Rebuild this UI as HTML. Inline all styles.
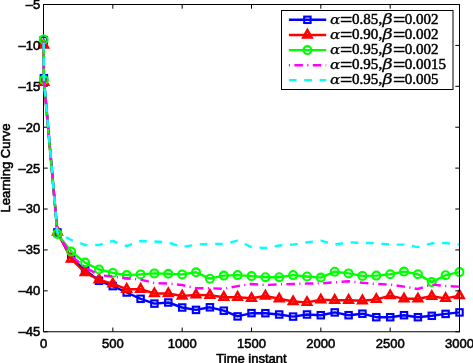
<!DOCTYPE html>
<html><head><meta charset="utf-8"><title>Learning Curve</title>
<style>html,body{margin:0;padding:0;background:#fff}svg{display:block}</style></head>
<body>
<svg width="473" height="363" viewBox="0 0 473 363">
<rect width="473" height="363" fill="#fff"/>
<path d="M43.5 4.5V331.75H459.5" fill="none" stroke="#000" stroke-width="1"/>
<path d="M43.50 331.75v-4.2" stroke="#000" stroke-width="1"/>
<path d="M112.83 331.75v-4.2" stroke="#000" stroke-width="1"/>
<path d="M182.17 331.75v-4.2" stroke="#000" stroke-width="1"/>
<path d="M251.50 331.75v-4.2" stroke="#000" stroke-width="1"/>
<path d="M320.83 331.75v-4.2" stroke="#000" stroke-width="1"/>
<path d="M390.17 331.75v-4.2" stroke="#000" stroke-width="1"/>
<path d="M459.50 331.75v-4.2" stroke="#000" stroke-width="1"/>
<path d="M43.5 4.50h4.2" stroke="#000" stroke-width="1"/>
<path d="M43.5 45.41h4.2" stroke="#000" stroke-width="1"/>
<path d="M43.5 86.31h4.2" stroke="#000" stroke-width="1"/>
<path d="M43.5 127.22h4.2" stroke="#000" stroke-width="1"/>
<path d="M43.5 168.12h4.2" stroke="#000" stroke-width="1"/>
<path d="M43.5 209.03h4.2" stroke="#000" stroke-width="1"/>
<path d="M43.5 249.94h4.2" stroke="#000" stroke-width="1"/>
<path d="M43.5 290.84h4.2" stroke="#000" stroke-width="1"/>
<path d="M43.5 331.75h4.2" stroke="#000" stroke-width="1"/>
<polyline points="43.7,40.3 43.9,78.2 57.4,232.4 71.2,258.0 85.1,270.0 99.0,280.8 112.8,286.1 126.7,292.5 140.6,298.8 154.4,303.6 168.3,302.5 182.2,307.5 196.0,309.9 209.9,307.3 223.8,310.7 237.6,316.4 251.5,313.1 265.4,313.2 279.2,314.5 293.1,316.6 307.0,314.5 320.8,315.2 334.7,312.4 348.6,315.2 362.4,313.7 376.3,317.2 390.2,317.2 404.0,315.2 417.9,317.2 431.8,315.8 445.6,313.9 459.5,312.4" fill="none" stroke="#0000ff" stroke-width="2.4" stroke-linejoin="round"/>
<rect x="40.5" y="37.1" width="6.4" height="6.4" fill="none" stroke="#0000ff" stroke-width="2.1"/>
<rect x="40.7" y="75.0" width="6.4" height="6.4" fill="none" stroke="#0000ff" stroke-width="2.1"/>
<rect x="54.2" y="229.2" width="6.4" height="6.4" fill="none" stroke="#0000ff" stroke-width="2.1"/>
<rect x="68.0" y="254.8" width="6.4" height="6.4" fill="none" stroke="#0000ff" stroke-width="2.1"/>
<rect x="81.9" y="266.8" width="6.4" height="6.4" fill="none" stroke="#0000ff" stroke-width="2.1"/>
<rect x="95.8" y="277.6" width="6.4" height="6.4" fill="none" stroke="#0000ff" stroke-width="2.1"/>
<rect x="109.6" y="282.9" width="6.4" height="6.4" fill="none" stroke="#0000ff" stroke-width="2.1"/>
<rect x="123.5" y="289.3" width="6.4" height="6.4" fill="none" stroke="#0000ff" stroke-width="2.1"/>
<rect x="137.4" y="295.6" width="6.4" height="6.4" fill="none" stroke="#0000ff" stroke-width="2.1"/>
<rect x="151.2" y="300.4" width="6.4" height="6.4" fill="none" stroke="#0000ff" stroke-width="2.1"/>
<rect x="165.1" y="299.3" width="6.4" height="6.4" fill="none" stroke="#0000ff" stroke-width="2.1"/>
<rect x="179.0" y="304.3" width="6.4" height="6.4" fill="none" stroke="#0000ff" stroke-width="2.1"/>
<rect x="192.8" y="306.7" width="6.4" height="6.4" fill="none" stroke="#0000ff" stroke-width="2.1"/>
<rect x="206.7" y="304.1" width="6.4" height="6.4" fill="none" stroke="#0000ff" stroke-width="2.1"/>
<rect x="220.6" y="307.5" width="6.4" height="6.4" fill="none" stroke="#0000ff" stroke-width="2.1"/>
<rect x="234.4" y="313.2" width="6.4" height="6.4" fill="none" stroke="#0000ff" stroke-width="2.1"/>
<rect x="248.3" y="309.9" width="6.4" height="6.4" fill="none" stroke="#0000ff" stroke-width="2.1"/>
<rect x="262.2" y="310.0" width="6.4" height="6.4" fill="none" stroke="#0000ff" stroke-width="2.1"/>
<rect x="276.0" y="311.3" width="6.4" height="6.4" fill="none" stroke="#0000ff" stroke-width="2.1"/>
<rect x="289.9" y="313.4" width="6.4" height="6.4" fill="none" stroke="#0000ff" stroke-width="2.1"/>
<rect x="303.8" y="311.3" width="6.4" height="6.4" fill="none" stroke="#0000ff" stroke-width="2.1"/>
<rect x="317.6" y="312.0" width="6.4" height="6.4" fill="none" stroke="#0000ff" stroke-width="2.1"/>
<rect x="331.5" y="309.2" width="6.4" height="6.4" fill="none" stroke="#0000ff" stroke-width="2.1"/>
<rect x="345.4" y="312.0" width="6.4" height="6.4" fill="none" stroke="#0000ff" stroke-width="2.1"/>
<rect x="359.2" y="310.5" width="6.4" height="6.4" fill="none" stroke="#0000ff" stroke-width="2.1"/>
<rect x="373.1" y="314.0" width="6.4" height="6.4" fill="none" stroke="#0000ff" stroke-width="2.1"/>
<rect x="387.0" y="314.0" width="6.4" height="6.4" fill="none" stroke="#0000ff" stroke-width="2.1"/>
<rect x="400.8" y="312.0" width="6.4" height="6.4" fill="none" stroke="#0000ff" stroke-width="2.1"/>
<rect x="414.7" y="314.0" width="6.4" height="6.4" fill="none" stroke="#0000ff" stroke-width="2.1"/>
<rect x="428.6" y="312.6" width="6.4" height="6.4" fill="none" stroke="#0000ff" stroke-width="2.1"/>
<rect x="442.4" y="310.7" width="6.4" height="6.4" fill="none" stroke="#0000ff" stroke-width="2.1"/>
<rect x="456.3" y="309.2" width="6.4" height="6.4" fill="none" stroke="#0000ff" stroke-width="2.1"/>
<polyline points="43.7,45.0 43.9,82.3 57.4,232.0 71.2,259.0 85.1,272.6 99.0,279.7 112.8,283.9 126.7,289.2 140.6,289.2 154.4,293.5 168.3,293.5 182.2,296.0 196.0,294.9 209.9,295.2 223.8,297.2 237.6,297.2 251.5,298.3 265.4,296.0 279.2,298.8 293.1,301.5 307.0,302.4 320.8,299.8 334.7,300.2 348.6,300.2 362.4,300.7 376.3,299.4 390.2,295.6 404.0,298.8 417.9,298.8 431.8,296.3 445.6,298.4 459.5,295.6" fill="none" stroke="#ff0000" stroke-width="2.4" stroke-linejoin="round"/>
<polygon points="43.7,40.2 47.8,47.4 39.6,47.4" fill="none" stroke="#ff0000" stroke-width="2.6" stroke-linejoin="miter"/>
<polygon points="43.9,77.5 48.0,84.7 39.8,84.7" fill="none" stroke="#ff0000" stroke-width="2.6" stroke-linejoin="miter"/>
<polygon points="57.4,227.2 61.5,234.4 53.3,234.4" fill="none" stroke="#ff0000" stroke-width="2.6" stroke-linejoin="miter"/>
<polygon points="71.2,254.2 75.3,261.4 67.1,261.4" fill="none" stroke="#ff0000" stroke-width="2.6" stroke-linejoin="miter"/>
<polygon points="85.1,267.9 89.2,275.0 81.0,275.0" fill="none" stroke="#ff0000" stroke-width="2.6" stroke-linejoin="miter"/>
<polygon points="99.0,274.9 103.1,282.1 94.9,282.1" fill="none" stroke="#ff0000" stroke-width="2.6" stroke-linejoin="miter"/>
<polygon points="112.8,279.1 116.9,286.3 108.7,286.3" fill="none" stroke="#ff0000" stroke-width="2.6" stroke-linejoin="miter"/>
<polygon points="126.7,284.4 130.8,291.6 122.6,291.6" fill="none" stroke="#ff0000" stroke-width="2.6" stroke-linejoin="miter"/>
<polygon points="140.6,284.4 144.7,291.6 136.5,291.6" fill="none" stroke="#ff0000" stroke-width="2.6" stroke-linejoin="miter"/>
<polygon points="154.4,288.8 158.5,295.9 150.3,295.9" fill="none" stroke="#ff0000" stroke-width="2.6" stroke-linejoin="miter"/>
<polygon points="168.3,288.8 172.4,295.9 164.2,295.9" fill="none" stroke="#ff0000" stroke-width="2.6" stroke-linejoin="miter"/>
<polygon points="182.2,291.2 186.3,298.4 178.1,298.4" fill="none" stroke="#ff0000" stroke-width="2.6" stroke-linejoin="miter"/>
<polygon points="196.0,290.1 200.1,297.3 191.9,297.3" fill="none" stroke="#ff0000" stroke-width="2.6" stroke-linejoin="miter"/>
<polygon points="209.9,290.4 214.0,297.6 205.8,297.6" fill="none" stroke="#ff0000" stroke-width="2.6" stroke-linejoin="miter"/>
<polygon points="223.8,292.4 227.9,299.6 219.7,299.6" fill="none" stroke="#ff0000" stroke-width="2.6" stroke-linejoin="miter"/>
<polygon points="237.6,292.4 241.7,299.6 233.5,299.6" fill="none" stroke="#ff0000" stroke-width="2.6" stroke-linejoin="miter"/>
<polygon points="251.5,293.6 255.6,300.7 247.4,300.7" fill="none" stroke="#ff0000" stroke-width="2.6" stroke-linejoin="miter"/>
<polygon points="265.4,291.2 269.5,298.4 261.3,298.4" fill="none" stroke="#ff0000" stroke-width="2.6" stroke-linejoin="miter"/>
<polygon points="279.2,294.1 283.3,301.2 275.1,301.2" fill="none" stroke="#ff0000" stroke-width="2.6" stroke-linejoin="miter"/>
<polygon points="293.1,296.8 297.2,303.9 289.0,303.9" fill="none" stroke="#ff0000" stroke-width="2.6" stroke-linejoin="miter"/>
<polygon points="307.0,297.6 311.1,304.8 302.9,304.8" fill="none" stroke="#ff0000" stroke-width="2.6" stroke-linejoin="miter"/>
<polygon points="320.8,295.1 324.9,302.2 316.7,302.2" fill="none" stroke="#ff0000" stroke-width="2.6" stroke-linejoin="miter"/>
<polygon points="334.7,295.4 338.8,302.6 330.6,302.6" fill="none" stroke="#ff0000" stroke-width="2.6" stroke-linejoin="miter"/>
<polygon points="348.6,295.4 352.7,302.6 344.5,302.6" fill="none" stroke="#ff0000" stroke-width="2.6" stroke-linejoin="miter"/>
<polygon points="362.4,295.9 366.5,303.1 358.3,303.1" fill="none" stroke="#ff0000" stroke-width="2.6" stroke-linejoin="miter"/>
<polygon points="376.3,294.6 380.4,301.8 372.2,301.8" fill="none" stroke="#ff0000" stroke-width="2.6" stroke-linejoin="miter"/>
<polygon points="390.2,290.9 394.3,298.0 386.1,298.0" fill="none" stroke="#ff0000" stroke-width="2.6" stroke-linejoin="miter"/>
<polygon points="404.0,294.1 408.1,301.2 399.9,301.2" fill="none" stroke="#ff0000" stroke-width="2.6" stroke-linejoin="miter"/>
<polygon points="417.9,294.1 422.0,301.2 413.8,301.2" fill="none" stroke="#ff0000" stroke-width="2.6" stroke-linejoin="miter"/>
<polygon points="431.8,291.6 435.9,298.7 427.7,298.7" fill="none" stroke="#ff0000" stroke-width="2.6" stroke-linejoin="miter"/>
<polygon points="445.6,293.6 449.7,300.8 441.5,300.8" fill="none" stroke="#ff0000" stroke-width="2.6" stroke-linejoin="miter"/>
<polygon points="459.5,290.9 463.6,298.0 455.4,298.0" fill="none" stroke="#ff0000" stroke-width="2.6" stroke-linejoin="miter"/>
<polyline points="43.7,39.5 43.9,79.9 57.4,233.9 71.2,251.6 85.1,262.6 99.0,269.5 112.8,272.9 126.7,275.1 140.6,274.4 154.4,273.4 168.3,273.8 182.2,274.4 196.0,272.3 209.9,278.7 223.8,275.6 237.6,275.1 251.5,276.1 265.4,277.2 279.2,277.2 293.1,275.1 307.0,276.5 320.8,277.6 334.7,271.7 348.6,273.4 362.4,275.9 376.3,275.6 390.2,274.2 404.0,271.6 417.9,274.2 431.8,282.1 445.6,275.2 459.5,272.1" fill="none" stroke="#00ff00" stroke-width="2.4" stroke-linejoin="round"/>
<circle cx="43.7" cy="39.5" r="3.95" fill="none" stroke="#00ff00" stroke-width="2.1"/>
<circle cx="43.9" cy="79.9" r="3.95" fill="none" stroke="#00ff00" stroke-width="2.1"/>
<circle cx="57.4" cy="233.9" r="3.95" fill="none" stroke="#00ff00" stroke-width="2.1"/>
<circle cx="71.2" cy="251.6" r="3.95" fill="none" stroke="#00ff00" stroke-width="2.1"/>
<circle cx="85.1" cy="262.6" r="3.95" fill="none" stroke="#00ff00" stroke-width="2.1"/>
<circle cx="99.0" cy="269.5" r="3.95" fill="none" stroke="#00ff00" stroke-width="2.1"/>
<circle cx="112.8" cy="272.9" r="3.95" fill="none" stroke="#00ff00" stroke-width="2.1"/>
<circle cx="126.7" cy="275.1" r="3.95" fill="none" stroke="#00ff00" stroke-width="2.1"/>
<circle cx="140.6" cy="274.4" r="3.95" fill="none" stroke="#00ff00" stroke-width="2.1"/>
<circle cx="154.4" cy="273.4" r="3.95" fill="none" stroke="#00ff00" stroke-width="2.1"/>
<circle cx="168.3" cy="273.8" r="3.95" fill="none" stroke="#00ff00" stroke-width="2.1"/>
<circle cx="182.2" cy="274.4" r="3.95" fill="none" stroke="#00ff00" stroke-width="2.1"/>
<circle cx="196.0" cy="272.3" r="3.95" fill="none" stroke="#00ff00" stroke-width="2.1"/>
<circle cx="209.9" cy="278.7" r="3.95" fill="none" stroke="#00ff00" stroke-width="2.1"/>
<circle cx="223.8" cy="275.6" r="3.95" fill="none" stroke="#00ff00" stroke-width="2.1"/>
<circle cx="237.6" cy="275.1" r="3.95" fill="none" stroke="#00ff00" stroke-width="2.1"/>
<circle cx="251.5" cy="276.1" r="3.95" fill="none" stroke="#00ff00" stroke-width="2.1"/>
<circle cx="265.4" cy="277.2" r="3.95" fill="none" stroke="#00ff00" stroke-width="2.1"/>
<circle cx="279.2" cy="277.2" r="3.95" fill="none" stroke="#00ff00" stroke-width="2.1"/>
<circle cx="293.1" cy="275.1" r="3.95" fill="none" stroke="#00ff00" stroke-width="2.1"/>
<circle cx="307.0" cy="276.5" r="3.95" fill="none" stroke="#00ff00" stroke-width="2.1"/>
<circle cx="320.8" cy="277.6" r="3.95" fill="none" stroke="#00ff00" stroke-width="2.1"/>
<circle cx="334.7" cy="271.7" r="3.95" fill="none" stroke="#00ff00" stroke-width="2.1"/>
<circle cx="348.6" cy="273.4" r="3.95" fill="none" stroke="#00ff00" stroke-width="2.1"/>
<circle cx="362.4" cy="275.9" r="3.95" fill="none" stroke="#00ff00" stroke-width="2.1"/>
<circle cx="376.3" cy="275.6" r="3.95" fill="none" stroke="#00ff00" stroke-width="2.1"/>
<circle cx="390.2" cy="274.2" r="3.95" fill="none" stroke="#00ff00" stroke-width="2.1"/>
<circle cx="404.0" cy="271.6" r="3.95" fill="none" stroke="#00ff00" stroke-width="2.1"/>
<circle cx="417.9" cy="274.2" r="3.95" fill="none" stroke="#00ff00" stroke-width="2.1"/>
<circle cx="431.8" cy="282.1" r="3.95" fill="none" stroke="#00ff00" stroke-width="2.1"/>
<circle cx="445.6" cy="275.2" r="3.95" fill="none" stroke="#00ff00" stroke-width="2.1"/>
<circle cx="459.5" cy="272.1" r="3.95" fill="none" stroke="#00ff00" stroke-width="2.1"/>
<polyline points="43.7,41.6 43.9,79.0 57.4,233.0 71.2,255.7 85.1,267.5 99.0,275.0 112.8,276.6 126.7,278.3 140.6,279.7 154.4,283.0 168.3,283.6 182.2,285.0 196.0,288.2 209.9,288.2 223.8,288.8 237.6,286.1 251.5,284.0 265.4,285.0 279.2,284.4 293.1,284.0 307.0,283.5 320.8,283.4 334.7,282.3 348.6,281.3 362.4,282.8 376.3,284.0 390.2,284.5 404.0,286.6 417.9,289.0 431.8,284.6 445.6,286.0 459.5,286.6" fill="none" stroke="#ff00ff" stroke-width="2.4" stroke-linejoin="round" stroke-dasharray="8.5 4.4 1.1 4.4"/>
<polyline points="43.7,42.7 43.9,79.0 57.4,232.5 71.2,240.0 85.1,245.0 99.0,245.0 112.8,241.0 126.7,246.0 140.6,241.0 154.4,241.5 168.3,242.5 182.2,247.1 196.0,244.6 209.9,243.9 223.8,243.9 237.6,240.7 251.5,247.1 265.4,248.0 279.2,245.5 293.1,244.6 307.0,242.3 320.8,240.7 334.7,244.6 348.6,242.3 362.4,243.0 376.3,243.0 390.2,244.6 404.0,244.6 417.9,247.1 431.8,243.3 445.6,243.0 459.5,244.6" fill="none" stroke="#00ffff" stroke-width="2.4" stroke-linejoin="round" stroke-dasharray="7.7 7.7"/>
<path d="M43.0 4.5H459.5V332.25" fill="none" stroke="#000" stroke-width="1"/>
<path d="M43.50 4.5v4.2" stroke="#000" stroke-width="1"/>
<path d="M112.83 4.5v4.2" stroke="#000" stroke-width="1"/>
<path d="M182.17 4.5v4.2" stroke="#000" stroke-width="1"/>
<path d="M251.50 4.5v4.2" stroke="#000" stroke-width="1"/>
<path d="M320.83 4.5v4.2" stroke="#000" stroke-width="1"/>
<path d="M390.17 4.5v4.2" stroke="#000" stroke-width="1"/>
<path d="M459.50 4.5v4.2" stroke="#000" stroke-width="1"/>
<path d="M459.5 4.50h-4.2" stroke="#000" stroke-width="1"/>
<path d="M459.5 45.41h-4.2" stroke="#000" stroke-width="1"/>
<path d="M459.5 86.31h-4.2" stroke="#000" stroke-width="1"/>
<path d="M459.5 127.22h-4.2" stroke="#000" stroke-width="1"/>
<path d="M459.5 168.12h-4.2" stroke="#000" stroke-width="1"/>
<path d="M459.5 209.03h-4.2" stroke="#000" stroke-width="1"/>
<path d="M459.5 249.94h-4.2" stroke="#000" stroke-width="1"/>
<path d="M459.5 290.84h-4.2" stroke="#000" stroke-width="1"/>
<path d="M459.5 331.75h-4.2" stroke="#000" stroke-width="1"/>
<g font-family="'Liberation Sans', Arial, Helvetica, sans-serif" font-size="13px" fill="#000" stroke="#000" stroke-width="0.55">
<text x="43.5" y="348.0" text-anchor="middle">0</text>
<text x="112.8" y="348.0" text-anchor="middle">500</text>
<text x="182.2" y="348.0" text-anchor="middle">1000</text>
<text x="251.5" y="348.0" text-anchor="middle">1500</text>
<text x="320.8" y="348.0" text-anchor="middle">2000</text>
<text x="390.2" y="348.0" text-anchor="middle">2500</text>
<text x="459.5" y="348.0" text-anchor="middle">3000</text>
<text x="40.3" y="8.8" text-anchor="end">–5</text>
<text x="40.3" y="49.8" text-anchor="end">–10</text>
<text x="40.3" y="90.7" text-anchor="end">–15</text>
<text x="40.3" y="131.6" text-anchor="end">–20</text>
<text x="40.3" y="172.5" text-anchor="end">–25</text>
<text x="40.3" y="213.4" text-anchor="end">–30</text>
<text x="40.3" y="254.3" text-anchor="end">–35</text>
<text x="40.3" y="295.2" text-anchor="end">–40</text>
<text x="40.3" y="336.1" text-anchor="end">–45</text>
<text x="251.5" y="362.5" text-anchor="middle">Time instant</text>
<text transform="translate(9.6 168) rotate(-90)" text-anchor="middle">Learning Curve</text>
</g>
<rect x="281.5" y="10.5" width="171.5" height="79" fill="#fff" stroke="#000" stroke-width="1"/>
<path d="M288.9 19.8H326.2" stroke="#0000ff" stroke-width="2.4" fill="none"/>
<rect x="304.2" y="16.6" width="6.4" height="6.4" fill="none" stroke="#0000ff" stroke-width="2.1"/>
<path d="M288.9 35.0H326.2" stroke="#ff0000" stroke-width="2.4" fill="none"/>
<polygon points="307.4,30.2 311.5,37.4 303.3,37.4" fill="none" stroke="#ff0000" stroke-width="2.6" stroke-linejoin="miter"/>
<path d="M288.9 50.1H326.2" stroke="#00ff00" stroke-width="2.4" fill="none"/>
<circle cx="307.4" cy="50.1" r="3.95" fill="none" stroke="#00ff00" stroke-width="2.1"/>
<path d="M288.9 65.3H326.2" stroke="#ff00ff" stroke-width="2.4" fill="none" stroke-dasharray="1.1 4.4 8.5 4.4"/>
<path d="M288.9 80.3H326.2" stroke="#00ffff" stroke-width="2.4" fill="none" stroke-dasharray="7.7 7.65"/>
<g fill="#000" font-family="'Liberation Serif', 'DejaVu Serif', serif" font-size="15px" stroke="#000" stroke-width="0.5">
<text><tspan x="330.0" y="23.7" textLength="10.3" lengthAdjust="spacingAndGlyphs" font-family="'DejaVu Serif', 'Liberation Serif', serif" font-style="italic" font-size="13.5px" stroke-width="0.25">α</tspan><tspan x="340.1" y="25.9" textLength="12.3" lengthAdjust="spacingAndGlyphs" font-size="18px">=</tspan><tspan x="352.0" y="23.7">0.85</tspan><tspan x="378.6" y="23.7">,</tspan><tspan x="382.4" y="23.7" textLength="10.2" lengthAdjust="spacingAndGlyphs" font-family="'DejaVu Serif', 'Liberation Serif', serif" font-style="italic" font-size="15.5px" stroke-width="0.25">β</tspan><tspan x="393.0" y="25.9" textLength="12.3" lengthAdjust="spacingAndGlyphs" font-size="18px">=</tspan><tspan x="404.8" y="23.7">0.002</tspan></text>
<text><tspan x="330.0" y="38.9" textLength="10.3" lengthAdjust="spacingAndGlyphs" font-family="'DejaVu Serif', 'Liberation Serif', serif" font-style="italic" font-size="13.5px" stroke-width="0.25">α</tspan><tspan x="340.1" y="41.1" textLength="12.3" lengthAdjust="spacingAndGlyphs" font-size="18px">=</tspan><tspan x="352.0" y="38.9">0.90</tspan><tspan x="378.6" y="38.9">,</tspan><tspan x="382.4" y="38.9" textLength="10.2" lengthAdjust="spacingAndGlyphs" font-family="'DejaVu Serif', 'Liberation Serif', serif" font-style="italic" font-size="15.5px" stroke-width="0.25">β</tspan><tspan x="393.0" y="41.1" textLength="12.3" lengthAdjust="spacingAndGlyphs" font-size="18px">=</tspan><tspan x="404.8" y="38.9">0.002</tspan></text>
<text><tspan x="330.0" y="54.0" textLength="10.3" lengthAdjust="spacingAndGlyphs" font-family="'DejaVu Serif', 'Liberation Serif', serif" font-style="italic" font-size="13.5px" stroke-width="0.25">α</tspan><tspan x="340.1" y="56.2" textLength="12.3" lengthAdjust="spacingAndGlyphs" font-size="18px">=</tspan><tspan x="352.0" y="54.0">0.95</tspan><tspan x="378.6" y="54.0">,</tspan><tspan x="382.4" y="54.0" textLength="10.2" lengthAdjust="spacingAndGlyphs" font-family="'DejaVu Serif', 'Liberation Serif', serif" font-style="italic" font-size="15.5px" stroke-width="0.25">β</tspan><tspan x="393.0" y="56.2" textLength="12.3" lengthAdjust="spacingAndGlyphs" font-size="18px">=</tspan><tspan x="404.8" y="54.0">0.002</tspan></text>
<text><tspan x="330.0" y="69.2" textLength="10.3" lengthAdjust="spacingAndGlyphs" font-family="'DejaVu Serif', 'Liberation Serif', serif" font-style="italic" font-size="13.5px" stroke-width="0.25">α</tspan><tspan x="340.1" y="71.4" textLength="12.3" lengthAdjust="spacingAndGlyphs" font-size="18px">=</tspan><tspan x="352.0" y="69.2">0.95</tspan><tspan x="378.6" y="69.2">,</tspan><tspan x="382.4" y="69.2" textLength="10.2" lengthAdjust="spacingAndGlyphs" font-family="'DejaVu Serif', 'Liberation Serif', serif" font-style="italic" font-size="15.5px" stroke-width="0.25">β</tspan><tspan x="393.0" y="71.4" textLength="12.3" lengthAdjust="spacingAndGlyphs" font-size="18px">=</tspan><tspan x="404.8" y="69.2">0.0015</tspan></text>
<text><tspan x="330.0" y="84.2" textLength="10.3" lengthAdjust="spacingAndGlyphs" font-family="'DejaVu Serif', 'Liberation Serif', serif" font-style="italic" font-size="13.5px" stroke-width="0.25">α</tspan><tspan x="340.1" y="86.4" textLength="12.3" lengthAdjust="spacingAndGlyphs" font-size="18px">=</tspan><tspan x="352.0" y="84.2">0.95</tspan><tspan x="378.6" y="84.2">,</tspan><tspan x="382.4" y="84.2" textLength="10.2" lengthAdjust="spacingAndGlyphs" font-family="'DejaVu Serif', 'Liberation Serif', serif" font-style="italic" font-size="15.5px" stroke-width="0.25">β</tspan><tspan x="393.0" y="86.4" textLength="12.3" lengthAdjust="spacingAndGlyphs" font-size="18px">=</tspan><tspan x="404.8" y="84.2">0.005</tspan></text>
</g>
</svg>
</body></html>
